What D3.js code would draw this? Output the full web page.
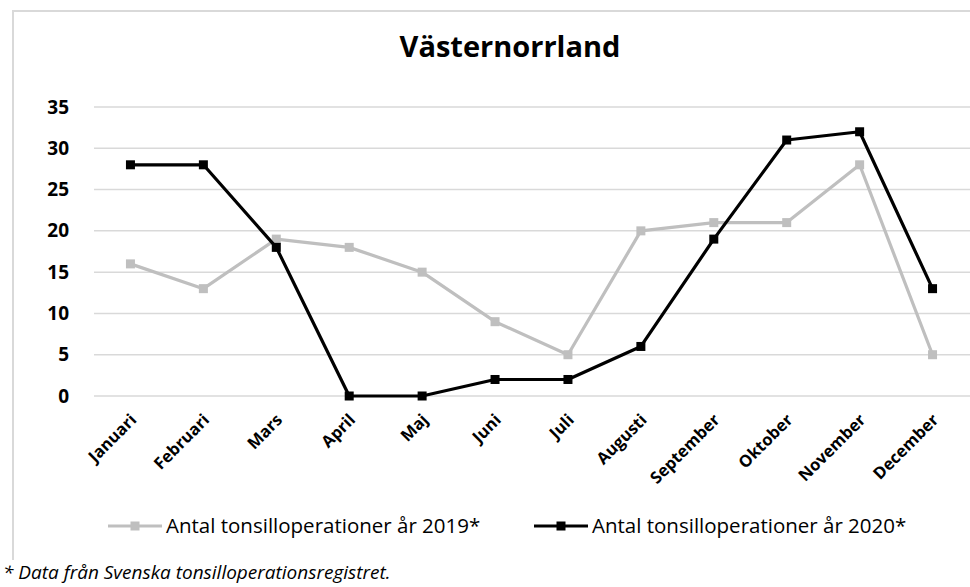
<!DOCTYPE html>
<html>
<head>
<meta charset="utf-8">
<script src="https://cdn.jsdelivr.net/npm/d3@7"></script>
<style>
  body { margin: 0; background: #fff; }
  svg { display: block; font-family: "Open Sans", sans-serif; }
</style>
</head>
<body>
<svg id="chart" width="970" height="587"></svg>
<script>
// data
var months = ["Januari", "Februari", "Mars", "April", "Maj", "Juni", "Juli",
              "Augusti", "September", "Oktober", "November", "December"];
var ops2019 = [16, 13, 19, 18, 15, 9, 5, 20, 21, 21, 28, 5];
var ops2020 = [28, 28, 18, 0, 0, 2, 2, 6, 19, 31, 32, 13];
var yTicks = [0, 5, 10, 15, 20, 25, 30, 35];
var seriesNames = ["Antal tonsilloperationer år 2019*", "Antal tonsilloperationer år 2020*"];

var colors = ["#bfbfbf", "#000000"];

var svg = d3.select("#chart");

// ram runt diagrammet
svg.append("path")
    .attr("d", "M13,560 V11 H970")
    .attr("fill", "none")
    .attr("stroke", "#d9d9d9")
    .attr("stroke-width", 2);

// titel
svg.append("text")
    .attr("x", 510)
    .attr("y", 57)
    .attr("text-anchor", "middle")
    .attr("font-size", 29)
    .attr("font-weight", "bold")
    .text("Västernorrland");

// skalor
var x = d3.scaleBand().domain(months).range([94, 969]).padding(0);
var y = d3.scaleLinear().domain([0, 35]).range([396, 107]);

function cx(d, i) { return x(months[i]) + x.bandwidth() / 2; }

// rutnät
svg.append("g")
    .selectAll("line")
    .data(yTicks)
    .enter().append("line")
    .attr("x1", 94).attr("x2", 970)
    .attr("y1", function(d) { return y(d); })
    .attr("y2", function(d) { return y(d); })
    .attr("stroke", "#d9d9d9")
    .attr("stroke-width", 1.5);

// y-axel
var yAxis = svg.append("g")
    .attr("transform", "translate(80,0)")
    .call(d3.axisLeft(y).tickValues(yTicks).tickSize(0).tickPadding(11));
yAxis.select(".domain").remove();
yAxis.selectAll("text")
    .attr("font-family", "Open Sans")
    .attr("font-size", 19)
    .attr("font-weight", "bold")
    .attr("fill", "#000");

// x-etiketter, roterade
svg.append("g")
    .selectAll("text")
    .data(months)
    .enter().append("text")
    .attr("transform", function(d) {
        return "translate(" + (x(d) + x.bandwidth() / 2 + 7) + ",421) rotate(-45)";
    })
    .attr("text-anchor", "end")
    .attr("font-size", 16.5)
    .attr("font-weight", "bold")
    .text(function(d) { return d; });

// linjer och markörer
var line = d3.line()
    .x(function(d, i) { return cx(d, i); })
    .y(function(d) { return y(d); });

[ops2019, ops2020].forEach(function(vals, s) {
    var g = svg.append("g");
    g.append("path")
        .datum(vals)
        .attr("d", line)
        .attr("fill", "none")
        .attr("stroke", colors[s])
        .attr("stroke-width", 3.2)
        .attr("stroke-linejoin", "round");
    g.selectAll("rect")
        .data(vals)
        .enter().append("rect")
        .attr("x", function(d, i) { return cx(d, i) - 4.5; })
        .attr("y", function(d) { return y(d) - 4.5; })
        .attr("width", 9)
        .attr("height", 9)
        .attr("fill", colors[s]);
});

// legend
var legendX = [108, 534];
var legend = svg.append("g");
seriesNames.forEach(function(name, s) {
    var lg = legend.append("g").attr("transform", "translate(" + legendX[s] + ",526)");
    lg.append("line")
        .attr("x1", 0).attr("x2", 54)
        .attr("stroke", colors[s])
        .attr("stroke-width", 3.2);
    lg.append("rect")
        .attr("x", 22.5).attr("y", -4.5)
        .attr("width", 9).attr("height", 9)
        .attr("fill", colors[s]);
    lg.append("text")
        .attr("x", 58)
        .attr("y", 7)
        .attr("font-size", 20.5)
        .attr("fill", "#000")
        .text(name);
});

// fotnot
svg.append("text")
    .attr("x", 3)
    .attr("y", 579)
    .attr("font-size", 19)
    .attr("font-style", "italic")
    .text("* Data från Svenska tonsilloperationsregistret.");
</script>
</body>
</html>
